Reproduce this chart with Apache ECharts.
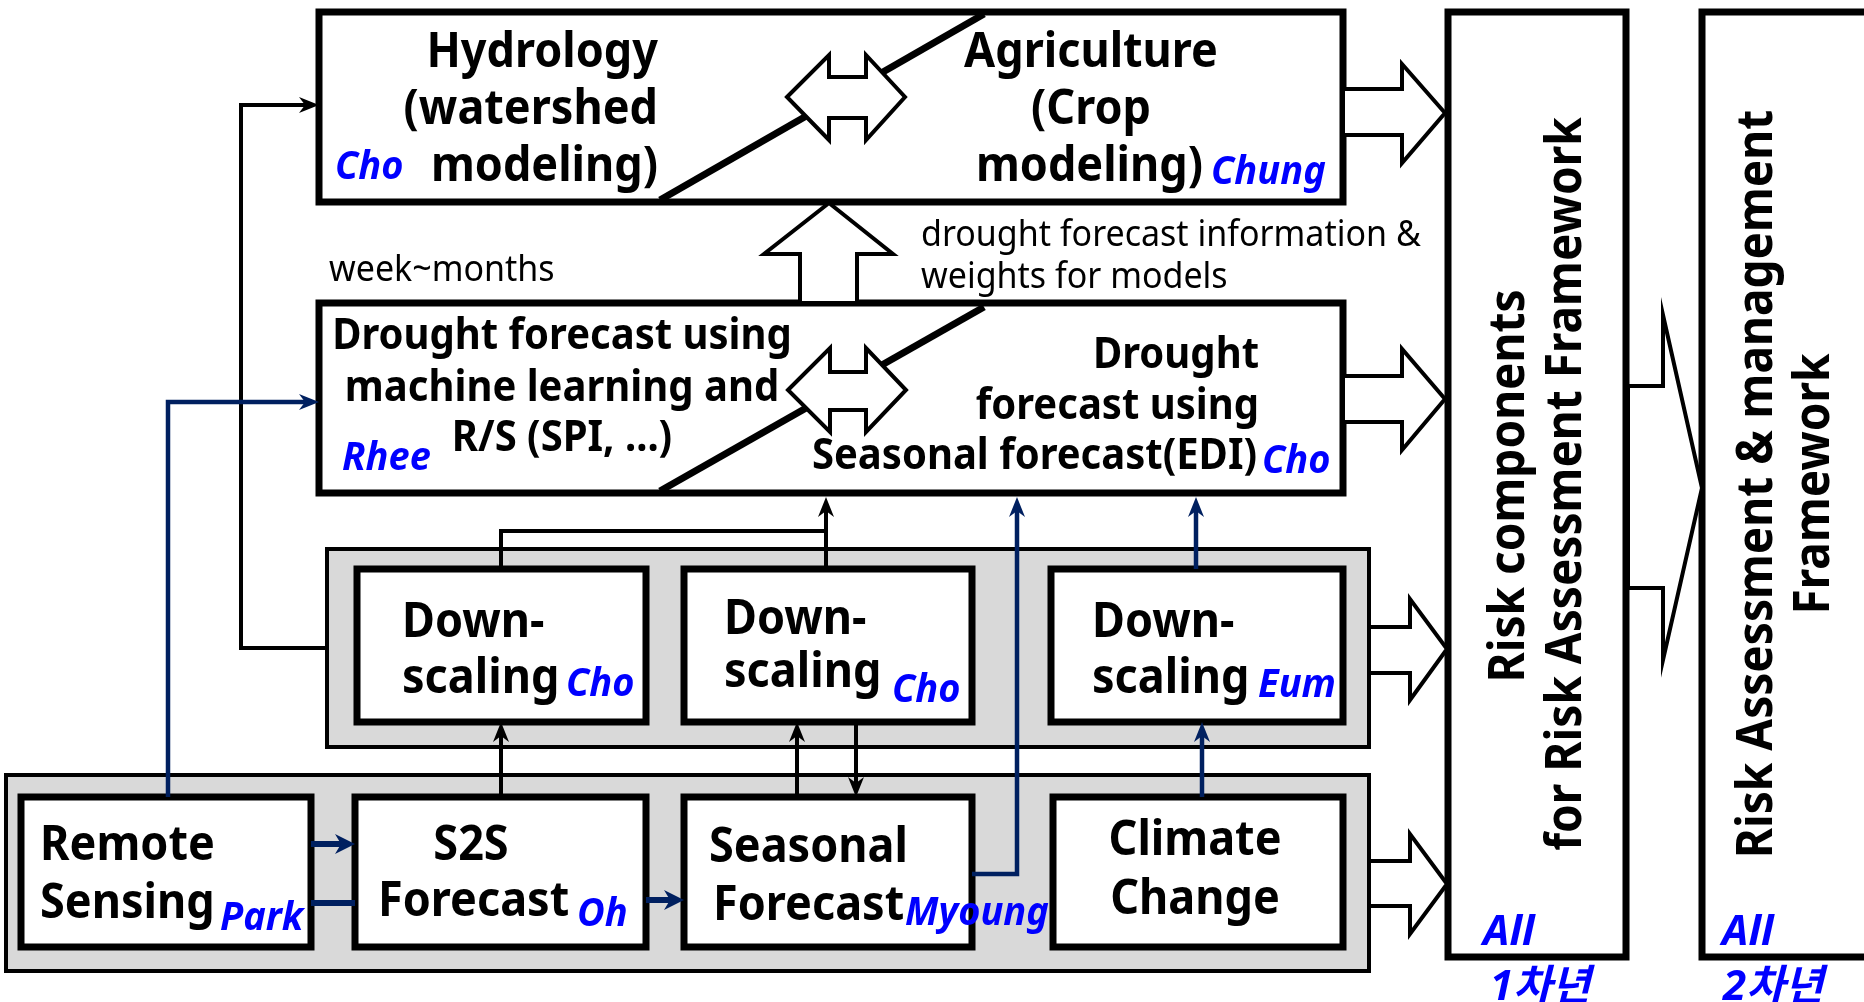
<!DOCTYPE html>
<html>
<head>
<meta charset="utf-8">
<title>Drought risk framework</title>
<script src="https://cdn.jsdelivr.net/npm/echarts@6/dist/echarts.min.js"></script>
<style>
  html, body { margin: 0; padding: 0; background: #fff; }
  #chart { width: 1864px; height: 1002px; }
</style>
</head>
<body>
<div id="chart"></div>
<script>
// diagram units = pixels of the original figure (x right, y down)
const panels = [
  [327, 549, 1369, 747],
  [6, 775, 1369, 971]
]
const boxes = [
  [319, 12, 1343, 202],   // hydrology / agriculture
  [319, 303, 1343, 493],  // drought forecast
  [357, 569, 646, 722],   // down-scaling 1
  [684, 569, 972, 722],   // down-scaling 2
  [1051, 569, 1343, 722], // down-scaling 3
  [21, 797, 311, 947],    // remote sensing
  [355, 797, 646, 947],   // s2s
  [684, 797, 972, 947],   // seasonal
  [1053, 797, 1343, 947], // climate change
  [1448, 12, 1626, 957],  // risk components
  [1702, 12, 1900, 957]   // risk assessment & management
]
const splitLines = [
  [[660, 200], [984, 14]],
  [[660, 491], [984, 307]]
]
const blockArrows = [
  [[787, 97], [829, 55], [829, 77], [866, 77], [866, 55], [905, 97], [866, 140], [866, 118], [829, 118], [829, 140]],
  [[788, 390], [830, 348], [830, 372], [866, 372], [866, 348], [906, 390], [866, 432], [866, 410], [830, 410], [830, 432]],
  [[800, 303], [800, 254], [764, 254], [829, 203], [893, 254], [857, 254], [857, 303]],
  [[1343, 89], [1402, 89], [1402, 64], [1445, 113], [1402, 163], [1402, 135], [1343, 135]],
  [[1343, 376], [1402, 376], [1402, 349], [1445, 399], [1402, 450], [1402, 422], [1343, 422]],
  [[1369, 627], [1410, 627], [1410, 599], [1447, 649], [1410, 700], [1410, 673], [1369, 673]],
  [[1369, 861], [1410, 861], [1410, 834], [1447, 884], [1410, 934], [1410, 906], [1369, 906]],
  [[1628, 386], [1663, 386], [1663, 315], [1702, 488], [1663, 660], [1663, 588], [1628, 588]]
]
// links: [points, arrow at end]
const blackLinks = [
  [[[327, 648], [241, 648], [241, 105], [319, 105]], true],
  [[[501, 569], [501, 531], [826, 531]], false],
  [[[826, 569], [826, 497]], true],
  [[[501, 797], [501, 722]], true],
  [[[797, 797], [797, 722]], true],
  [[[856, 722], [856, 797]], true]
]
const blueLinks = [
  [[[168, 797], [168, 402], [319, 402]], true],
  [[[972, 874], [1017, 874], [1017, 497]], true],
  [[[1196, 569], [1196, 497]], true],
  [[[1202, 797], [1202, 722]], true]
]
const blueShortLinks = [
  [[[311, 844], [355, 844]], true],
  [[[311, 903], [355, 903]], false],
  [[[646, 900], [684, 900]], true]
]
// [text, x, y, role, align]
const labels = [
  ['Hydrology', 658, 50, 'main', 'right'],
  ['(watershed', 658, 107, 'main', 'right'],
  ['modeling)', 658, 164, 'main', 'right'],
  ['Cho', 335, 167, 'name', 'left'],
  ['Agriculture', 1091, 50, 'main', 'center'],
  ['(Crop', 1091, 107, 'main', 'center'],
  ['modeling)', 1203, 164, 'main', 'right'],
  ['Chung', 1211, 172, 'name', 'left'],
  ['drought forecast information &', 921, 235, 'note', 'left'],
  ['weights for models', 921, 277, 'note', 'left'],
  ['week~months', 329, 270, 'note', 'left'],
  ['Drought forecast using', 562, 334, 'mid', 'center'],
  ['machine learning and', 562, 386, 'mid', 'center'],
  ['R/S (SPI, ...)', 562, 436, 'mid', 'center'],
  ['Rhee', 342, 458, 'name', 'left'],
  ['Drought', 1259, 353, 'mid', 'right'],
  ['forecast using', 1259, 404, 'mid', 'right'],
  ['Seasonal forecast(EDI)', 1257, 454, 'mid', 'right'],
  ['Cho', 1262, 461, 'name', 'left'],
  ['Down-', 402, 620, 'main', 'left'],
  ['scaling', 402, 676, 'main', 'left'],
  ['Cho', 566, 684, 'name', 'left'],
  ['Down-', 724, 617, 'main', 'left'],
  ['scaling', 724, 670, 'main', 'left'],
  ['Cho', 892, 690, 'name', 'left'],
  ['Down-', 1092, 620, 'main', 'left'],
  ['scaling', 1092, 676, 'main', 'left'],
  ['Eum', 1258, 685, 'name', 'left'],
  ['Remote', 40, 843, 'main', 'left'],
  ['Sensing', 40, 901, 'main', 'left'],
  ['Park', 220, 918, 'name', 'left'],
  ['S2S', 471, 843, 'main', 'center'],
  ['Forecast', 378, 899, 'main', 'left'],
  ['Oh', 577, 914, 'name', 'left'],
  ['Seasonal', 709, 845, 'main', 'left'],
  ['Forecast', 713, 903, 'main', 'left'],
  ['Myoung', 905, 913, 'name', 'left'],
  ['Climate', 1195, 838, 'main', 'center'],
  ['Change', 1195, 897, 'main', 'center'],
  ['Risk components', 1510, 486, 'side', 'center'],
  ['for Risk Assessment Framework', 1567, 484, 'side', 'center'],
  ['Risk Assessment & management', 1758, 484, 'side', 'center'],
  ['Framework', 1815, 484, 'side', 'center'],
  ['All', 1483, 933, 'year', 'left'],
  ['1차년', 1490, 988, 'year', 'left'],
  ['All', 1722, 933, 'year', 'left'],
  ['2차년', 1723, 988, 'year', 'left']
]

const FONT = "'Noto Sans', 'Noto Sans CJK KR', sans-serif"
const NAVY = '#002060'
const textRoles = {
  main: { fontSize: 45, fontWeight: 'bold', fill: '#000', sy: 1.08, dy: 3 },
  mid: { fontSize: 40, fontWeight: 'bold', fill: '#000', sy: 1.08, dy: 3 },
  side: { fontSize: 46, fontWeight: 'bold', fill: '#000', sy: 1.08, dy: 0 },
  name: { fontSize: 38, fontWeight: 'bold', fontStyle: 'italic', fill: '#0000ff', sy: 1.05, dy: 1 },
  year: { fontSize: 42, fontWeight: 'bold', fontStyle: 'italic', fill: '#0000ff', sy: 1, dy: 0 },
  note: { fontSize: 34, fontWeight: 'normal', fill: '#000', sy: 1.05, dy: 1 }
}

function rectSeries(list, style) {
  return {
    type: 'custom',
    silent: true,
    data: list,
    encode: { x: [0, 2], y: [1, 3] },
    renderItem: (params, api) => {
      const a = api.coord([api.value(0), api.value(1)])
      const b = api.coord([api.value(2), api.value(3)])
      return {
        type: 'rect',
        shape: { x: a[0], y: a[1], width: b[0] - a[0], height: b[1] - a[1] },
        style: style
      }
    }
  }
}

function arrowHead(p, q, len, half) {
  // head pointing from p towards q, tip at q
  const dx = q[0] - p[0], dy = q[1] - p[1]
  const d = Math.sqrt(dx * dx + dy * dy) || 1
  const ux = dx / d, uy = dy / d
  const bx = q[0] - ux * len, by = q[1] - uy * len
  const nx = bx + ux * len * 0.3, ny = by + uy * len * 0.3
  return [q, [bx - uy * half, by + ux * half], [nx, ny], [bx + uy * half, by - ux * half]]
}

function linkSeries(list, color, width, len, half) {
  return {
    type: 'custom',
    silent: true,
    data: list.map((l, i) => [l[0][0][0], l[0][0][1], i]),
    encode: { x: 0, y: 1 },
    renderItem: (params, api) => {
      const item = list[api.value(2)]
      const pts = item[0].map(p => api.coord(p))
      const children = []
      let line = pts.slice()
      if (item[1]) {
        const n = pts.length
        const head = arrowHead(pts[n - 2], pts[n - 1], len, half)
        line[n - 1] = head[2]
        children.push({ type: 'polygon', shape: { points: head }, style: { fill: color } })
      }
      children.unshift({
        type: 'polyline',
        shape: { points: line },
        style: { stroke: color, lineWidth: width, fill: null, lineJoin: 'miter' }
      })
      return { type: 'group', children: children }
    }
  }
}

const chart = echarts.init(document.getElementById('chart'), null, { renderer: 'canvas' })
chart.setOption({
  animation: false,
  backgroundColor: '#fff',
  grid: { left: 0, right: 0, top: 0, bottom: 0 },
  xAxis: { type: 'value', min: 0, max: 1864, show: false },
  yAxis: { type: 'value', min: 0, max: 1002, inverse: true, show: false },
  series: [
    rectSeries(panels, { fill: '#d9d9d9', stroke: '#000', lineWidth: 4 }),
    rectSeries(boxes, { fill: '#fff', stroke: '#000', lineWidth: 7 }),
    {
      type: 'custom',
      silent: true,
      data: splitLines.map(s => [s[0][0], s[0][1], s[1][0], s[1][1]]),
      encode: { x: [0, 2], y: [1, 3] },
      renderItem: (params, api) => {
        const a = api.coord([api.value(0), api.value(1)])
        const b = api.coord([api.value(2), api.value(3)])
        return {
          type: 'line',
          shape: { x1: a[0], y1: a[1], x2: b[0], y2: b[1] },
          style: { stroke: '#000', lineWidth: 7 }
        }
      }
    },
    {
      type: 'custom',
      silent: true,
      data: blockArrows.map((b, i) => [b[0][0], b[0][1], i]),
      encode: { x: 0, y: 1 },
      renderItem: (params, api) => {
        const pts = blockArrows[api.value(2)].map(p => api.coord(p))
        return {
          type: 'polygon',
          shape: { points: pts },
          style: { fill: '#fff', stroke: '#000', lineWidth: 4, lineJoin: 'miter' }
        }
      }
    },
    linkSeries(blackLinks, '#000', 4, 20, 8),
    linkSeries(blueLinks, NAVY, 4.5, 20, 8),
    linkSeries(blueShortLinks, NAVY, 6, 20, 10),
    {
      type: 'custom',
      silent: true,
      data: labels.map((l, i) => [l[1], l[2], i]),
      encode: { x: 0, y: 1 },
      renderItem: (params, api) => {
        const l = labels[api.value(2)]
        const p = api.coord([l[1], l[2]])
        const role = textRoles[l[3]]
        return {
          type: 'text',
          x: p[0],
          y: p[1] + role.dy,
          rotation: l[3] === 'side' ? Math.PI / 2 : 0,
          scaleY: role.sy,
          style: {
            text: l[0],
            x: 0,
            y: 0,
            align: l[4],
            verticalAlign: 'middle',
            fontFamily: FONT,
            fontSize: role.fontSize,
            fontWeight: role.fontWeight,
            fontStyle: role.fontStyle || 'normal',
            fill: role.fill
          }
        }
      }
    }
  ]
})
</script>
</body>
</html>
